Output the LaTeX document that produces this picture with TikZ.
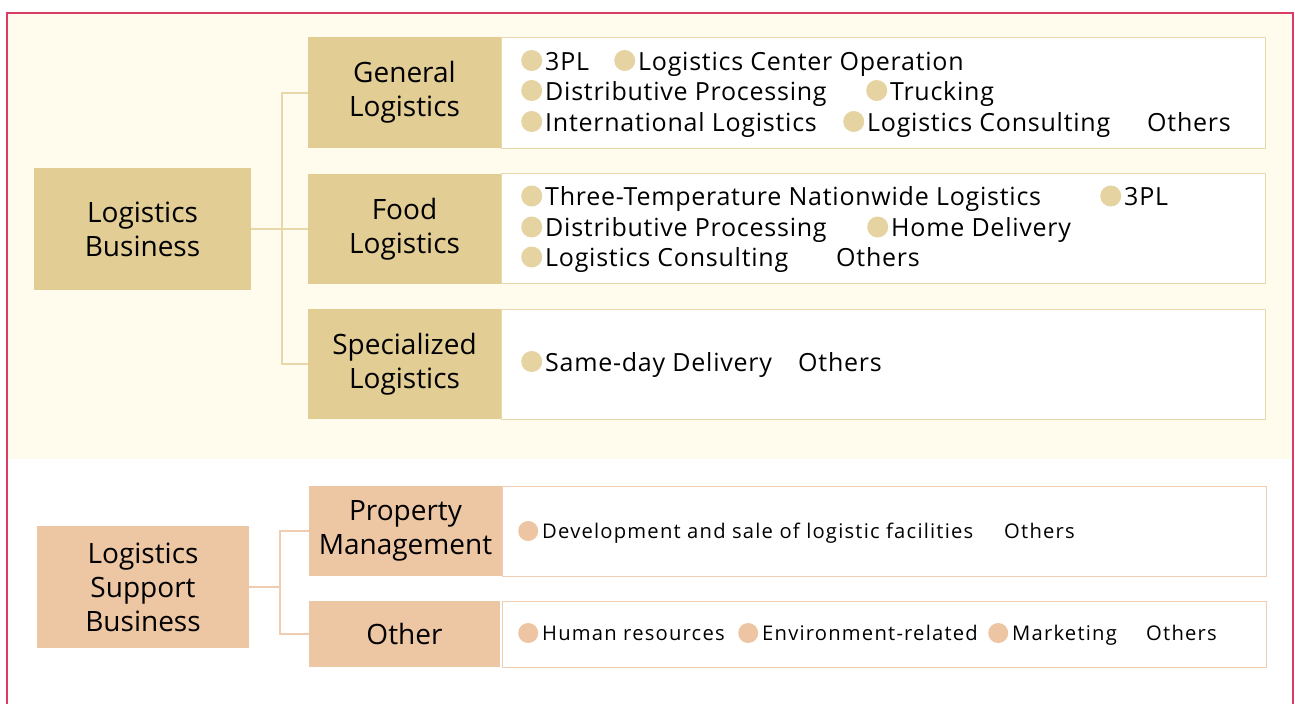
\documentclass[tikz,border=0pt]{standalone}
\usepackage{fontspec}
\setmainfont{Open Sans}
\newfontfamily\hdrfont{Open Sans}
\newfontfamily\lstfont{Open Sans}[LetterSpace=3]
\newfontfamily\lstfontS{Open Sans}[LetterSpace=6]

\definecolor{frameRed}{HTML}{DC3B63}
\definecolor{cream}{HTML}{FFFCEE}
\definecolor{tanFill}{HTML}{E2CD95}
\definecolor{tanLine}{HTML}{E8D7AA}
\definecolor{tanDot}{HTML}{E5D3A2}
\definecolor{salFill}{HTML}{EDC6A4}
\definecolor{salLine}{HTML}{F0CDB0}
\definecolor{salDot}{HTML}{EEC5A2}

% round bullets drawn in front of each entry
\newcommand\bulA{\tikz[baseline=-9.5pt]\fill[tanDot] (0,0) circle (10.5pt);\hspace{3pt}}
\newcommand\bulB{\tikz[baseline=-7.5pt]\fill[salDot] (0,0) circle (10pt);\hspace{4pt}}

\begin{document}
\begin{tikzpicture}[x=1pt,y=-1pt,
  hdrbase/.style={inner sep=0, align=center, font=\hdrfont\fontsize{28}{34}\selectfont},
  catA/.style={hdrbase, fill=tanFill},
  catB/.style={hdrbase, fill=salFill},
  boxA/.style={fill=white, draw=tanLine, line width=1pt, inner sep=0},
  boxB/.style={fill=white, draw=salLine, line width=1pt, inner sep=0},
  itm/.style={anchor=base west, inner sep=0, font=\lstfont\fontsize{25}{30}\selectfont},
  itmS/.style={anchor=base west, inner sep=0, font=\lstfontS\fontsize{20.2}{24}\selectfont},
  linkA/.style={draw=tanLine, line width=2pt},
  linkB/.style={draw=salLine, line width=2pt}]
\useasboundingbox (0,0) rectangle (1295,704);
\fill[white] (0,0) rectangle (1295,704);
\fill[cream] (7,13) rectangle (1292,459);
\draw[frameRed, line width=2pt] (7,704) -- (7,13) -- (1293,13) -- (1293,704);

% ---- Logistics Business ----
\node[boxA, minimum width=764pt, minimum height=111pt] (glist) at (883,92.5) {};
\node[boxA, minimum width=764pt, minimum height=110pt] (flist) at (883,228.5) {};
\node[boxA, minimum width=764pt, minimum height=110pt] (slist) at (883,364) {};

\node[catA, minimum width=217pt, minimum height=122pt] (lb) at (142.5,229) {Logistics\\Business};
\node[catA, minimum width=193pt, minimum height=111pt] (gh) at (404.5,92.5) {General\\Logistics};
\node[catA, minimum width=193pt, minimum height=110pt] (fh) at (404.5,229) {Food\\Logistics};
\node[catA, minimum width=193pt, minimum height=110pt] (sh) at (404.5,364) {Specialized\\Logistics};

\coordinate (jt) at (282,229);
\draw[linkA] (lb.east) -- (jt);
\draw[linkA] (gh.west) -| (jt);
\draw[linkA] (fh.west) -- (jt);
\draw[linkA] (sh.west) -| (jt);

\node[itm] (g1) at (521,70) {\bulA 3PL};
\node[itm] (g2) at (614,70) {\bulA Logistics Center Operation};
\node[itm] (g3) at (521,100) {\bulA Distributive Processing};
\node[itm] (g4) at (866,100) {\bulA Trucking};
\node[itm] (g5) at (521,131) {\bulA International Logistics};
\node[itm] (g6) at (843,131) {\bulA Logistics Consulting};
\node[itm] (g7) at (1147,131) {Others};

\node[itm] (f1) at (521,205.5) {\bulA Three-Temperature Nationwide Logistics};
\node[itm] (f2) at (1100,205.5) {\bulA 3PL};
\node[itm] (f3) at (521,236.5) {\bulA Distributive Processing};
\node[itm] (f4) at (867,236.5) {\bulA Home Delivery};
\node[itm] (f5) at (521,266.5) {\bulA Logistics Consulting};
\node[itm] (f6) at (836,266.5) {Others};

\node[itm] (s1) at (521,371) {\bulA Same-day Delivery};
\node[itm] (s2) at (798,371) {Others};

% ---- Logistics Support Business ----
\node[boxB, minimum width=764pt, minimum height=90pt] (plist) at (884,531) {};
\node[boxB, minimum width=764pt, minimum height=66pt] (olist) at (884,634) {};

\node[catB, minimum width=212pt, minimum height=122pt] (lsb) at (143,587) {Logistics\\Support\\Business};
\node[catB, minimum width=193pt, minimum height=90pt] (ph) at (405.5,531) {Property\\Management};
\node[catB, minimum width=191pt, minimum height=66pt] (oh) at (404.5,634) {Other};

\coordinate (jb) at (280,587);
\draw[linkB] (lsb.east) -- (jb);
\draw[linkB] (ph.west) -| (jb);
\draw[linkB] (oh.west) -| (jb);

\node[itmS] (p1) at (518,538.5) {\bulB Development and sale of logistic facilities};
\node[itmS] (p2) at (1004,538.5) {Others};

\node[itmS] (o1) at (518,640.5) {\bulB Human resources};
\node[itmS] (o2) at (738,640.5) {\bulB Environment-related};
\node[itmS] (o3) at (988,640.5) {\bulB Marketing};
\node[itmS] (o4) at (1146,640.5) {Others};
\end{tikzpicture}
\end{document}
